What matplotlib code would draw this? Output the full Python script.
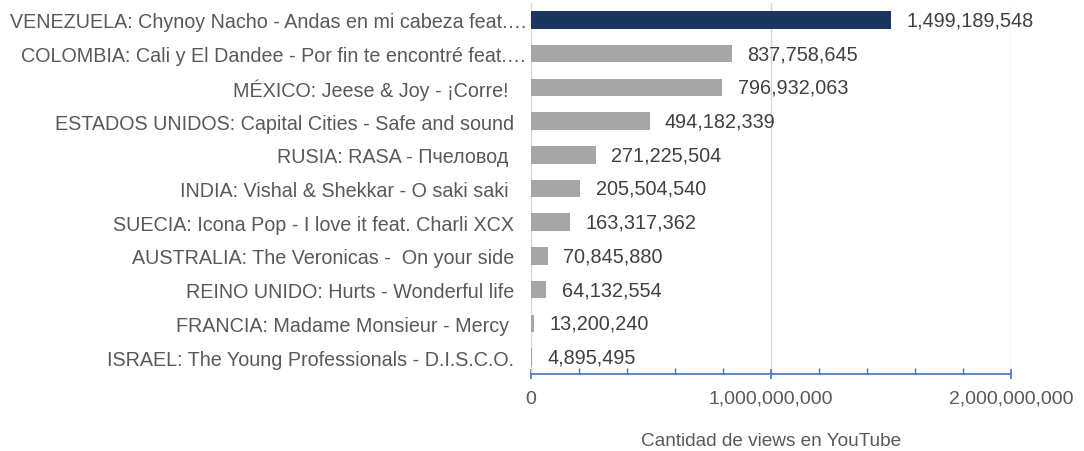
import matplotlib.pyplot as plt
from matplotlib.ticker import FuncFormatter, MultipleLocator

plt.rcParams['font.family'] = ['Liberation Sans', 'DejaVu Sans']

labels = [
    'VENEZUELA: Chynoy Nacho - Andas en mi cabeza feat.…',
    'COLOMBIA: Cali y El Dandee - Por fin te encontré feat.…',
    'MÉXICO: Jeese & Joy - ¡Corre! ',
    'ESTADOS UNIDOS: Capital Cities - Safe and sound',
    'RUSIA: RASA - Пчеловод ',
    'INDIA: Vishal & Shekkar - O saki saki ',
    'SUECIA: Icona Pop - I love it feat. Charli XCX',
    'AUSTRALIA: The Veronicas -  On your side',
    'REINO UNIDO: Hurts - Wonderful life',
    'FRANCIA: Madame Monsieur - Mercy ',
    'ISRAEL: The Young Professionals - D.I.S.C.O.',
]
views = [1499189548, 837758645, 796932063, 494182339, 271225504, 205504540,
         163317362, 70845880, 64132554, 13200240, 4895495]
colors = ['#1B365D'] + ['#A6A6A6'] * (len(views) - 1)

fig = plt.figure(figsize=(10.84, 4.52), dpi=100)
ax = fig.add_axes([531 / 1084, 1 - 375 / 452, 480 / 1084, 371 / 452])

pos = list(range(len(views)))
ax.barh(pos, views, height=0.52, color=colors, zorder=3)
for p, v in zip(pos, views):
    ax.annotate(f'{v:,}', (v, p), xytext=(11, 0), textcoords='offset points',
                va='center', ha='left', fontsize=14.3, color='#404040')

ax.set_ylim(len(views) - 0.5, -0.5)
ax.set_xlim(0, 2e9)
ax.set_yticks(pos)
ax.set_yticklabels(labels, fontsize=14.2, color='#595959')
ax.tick_params(axis='y', length=0, pad=12)
for i, t in enumerate(ax.yaxis.get_major_ticks()):
    if labels[i].endswith('…'):
        t.set_pad(3)

ax.xaxis.set_major_locator(MultipleLocator(1e9))
ax.xaxis.set_minor_locator(MultipleLocator(2e8))
ax.xaxis.set_major_formatter(FuncFormatter(lambda x, _: f'{x:,.0f}'))
ax.tick_params(axis='x', which='major', direction='inout', length=7, width=1.2,
               color='#4472C4', labelsize=14, labelcolor='#595959', pad=8)
ax.tick_params(axis='x', which='minor', direction='in', length=4, width=1,
               color='#4472C4')
ax.grid(axis='x', color='#D9D9D9', lw=1, zorder=0)

for s in ['top', 'right']:
    ax.spines[s].set_visible(False)
ax.spines['left'].set_color('#D9D9D9')
ax.spines['bottom'].set_color('#4472C4')
ax.spines['bottom'].set_linewidth(1.2)

ax.set_xlabel('Cantidad de views en YouTube', fontsize=13.7, color='#595959', labelpad=18)

fig.savefig('out.png', dpi=100)
